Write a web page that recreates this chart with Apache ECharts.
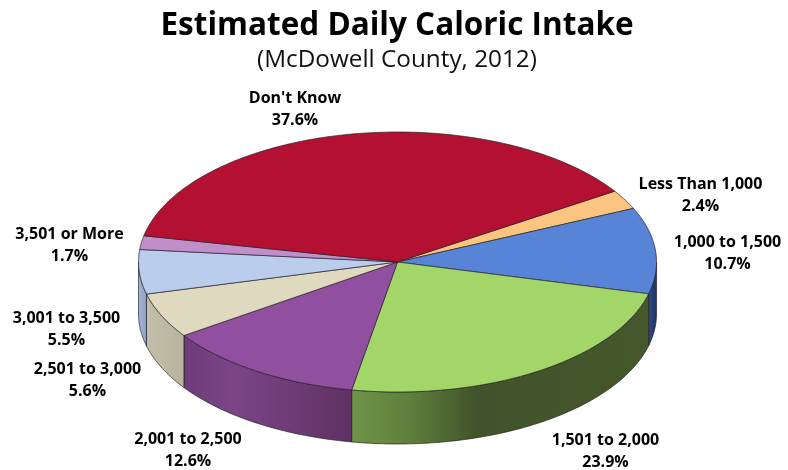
<!DOCTYPE html>
<html><head><meta charset="utf-8">
<style>html,body{margin:0;padding:0;background:#fff}#c{width:788px;height:470px}</style>
<script src="https://cdn.jsdelivr.net/npm/echarts@6/dist/echarts.min.js"></script>
</head><body><div id="c"></div>
<script>
const categories = ['Less Than 1,000','1,000 to 1,500','1,501 to 2,000','2,001 to 2,500','2,501 to 3,000','3,001 to 3,500','3,501 or More',"Don't Know"];
const percentages = [2.4,10.7,23.9,12.6,5.6,5.5,1.7,37.6];
const titleText = 'Estimated Daily Caloric Intake';
const subtitleText = '(McDowell County, 2012)';

const topColors = ['#fcc57f','#5784d6','#a3d669','#914fa0','#dfd9c0','#bacdec','#c08fca','#b41031'];
const wallStops = [
  [[0,'#c9a060'],[1,'#c9a060']],
  [[0,'#2c4a8a'],[1,'#1f3360']],
  [[0,'#6f9448'],[0.2,'#5f7f3c'],[0.42,'#41532a'],[1,'#45582a']],
  [[0,'#6e3c78'],[0.3,'#7b4587'],[1,'#5f3163']],
  [[0,'#c2bea8'],[1,'#b9b49c']],
  [[0,'#a3b4d4'],[1,'#8fa1c3']],
  [[0,'#9a72a3'],[1,'#9a72a3']],
  [[0,'#8a0c25'],[1,'#8a0c25']]
];
const labelCentres = [[700.5,195],[727.5,253],[605.5,451],[188,450],[87.5,380],[66.5,329],[69.5,245],[295,109]];

const PIE = {cx:397.5, cy:262, rx:259, ry:130, depth:52, start:33};
const total = percentages.reduce((a,b)=>a+b,0);
const rad = d => d*Math.PI/180;
const onRim = (deg,dy) => [PIE.cx+PIE.rx*Math.cos(rad(deg)), PIE.cy-PIE.ry*Math.sin(rad(deg))+(dy||0)];
function sliceRange(i){
  let before = 0;
  for(let k=0;k<i;k++) before += percentages[k];
  const a0 = PIE.start - before/total*360;
  return [a0, a0 - percentages[i]/total*360];
}
function arc(a0,a1,dy){
  const n = Math.max(2,Math.ceil(Math.abs(a0-a1)));
  const pts = [];
  for(let s=0;s<=n;s++) pts.push(onRim(a0+(a1-a0)*s/n,dy));
  return pts;
}
function renderTop(params,api){
  const i = api.value(0);
  const [a0,a1] = sliceRange(i);
  return {type:'polygon',
    shape:{points:[[PIE.cx,PIE.cy]].concat(arc(a0,a1,0))},
    style:{fill:topColors[i],stroke:'rgba(35,30,40,0.85)',lineWidth:0.8,lineJoin:'round'}};
}
function renderWall(params,api){
  const i = api.value(0);
  const [a0,a1] = sliceRange(i);
  const parts = [];
  for(const [lo,hi] of [[-180,0],[180,360]]){
    const top = Math.min(a0,hi), bot = Math.max(a1,lo);
    if(top>bot) parts.push([top,bot]);
  }
  if(!parts.length) return {type:'group',children:[]};
  const children = parts.map(([t,b])=>{
    const up = arc(t,b,0), down = arc(b,t,PIE.depth);
    const pts = up.concat(down);
    const xs = pts.map(p=>p[0]);
    const x0 = Math.min(...xs), x1 = Math.max(...xs);
    return {type:'polygon',shape:{points:pts},
      style:{fill:new echarts.graphic.LinearGradient(x0,0,x1,0,
        wallStops[i].map(s=>({offset:s[0],color:s[1]})),true),
        stroke:'rgba(25,25,30,0.8)',lineWidth:0.8,lineJoin:'round'}};
  });
  return {type:'group',children};
}
const indexData = categories.map((c,i)=>[i,percentages[i],c]);
const chart = echarts.init(document.getElementById('c'),null,{renderer:'canvas'});
chart.setOption({
  animation:false,
  backgroundColor:'#fff',
  title:[
    {text:titleText,left:392,textAlign:'center',top:5,textStyle:{fontFamily:'Open Sans',fontSize:31.5,fontWeight:'bold',color:'#000'}},
    {text:subtitleText,left:392,textAlign:'center',top:43,textStyle:{fontFamily:'Open Sans',fontSize:24.3,fontWeight:'normal',color:'#111'}}
  ],
  series:[
    {type:'custom',coordinateSystem:'none',silent:true,data:indexData,renderItem:renderWall,z:1},
    {type:'custom',coordinateSystem:'none',silent:true,data:indexData,renderItem:renderTop,z:2}
  ],
  graphic:categories.map((c,i)=>({
    type:'text',z:5,x:labelCentres[i][0],y:labelCentres[i][1],
    style:{text:c+'\n'+percentages[i].toFixed(1)+'%',align:'center',verticalAlign:'middle',
      fontFamily:'Open Sans',fontSize:16,fontWeight:'bold',lineHeight:22,fill:'#000'}
  }))
});
</script></body></html>
